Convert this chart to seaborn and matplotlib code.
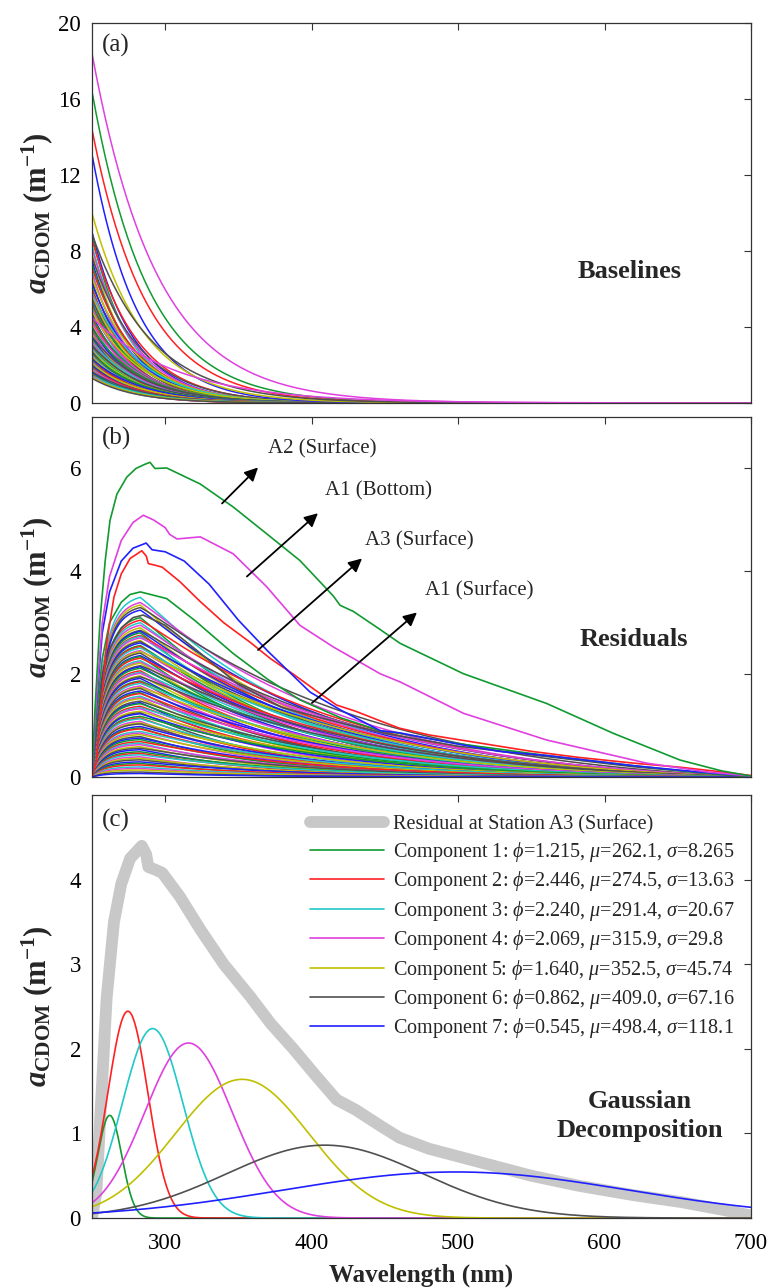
import numpy as np
import pandas as pd
import matplotlib
matplotlib.use("Agg")
import matplotlib.pyplot as plt
import seaborn as sns

sns.set_theme(style="white")
plt.rcParams["font.family"] = ["Liberation Serif", "DejaVu Serif"]
plt.rcParams["mathtext.fontset"] = "custom"
plt.rcParams["mathtext.rm"] = "Liberation Serif"
plt.rcParams["mathtext.it"] = "Liberation Serif:italic"
plt.rcParams["mathtext.bf"] = "Liberation Serif:bold"
plt.rcParams["mathtext.bfit"] = "Liberation Serif:bold:italic"

# ---------------- data ----------------
MATLAB = ["#2020FF", "#109A30", "#FF2020", "#20C8C8", "#E040E0", "#C0C000", "#505050"]

# (a) baselines: value at 250 nm and spectral slope of each exponential baseline
base_top_a250 = [18.4, 16.4, 14.4, 13.1, 10.0, 8.9, 4.5]
base_top_slope = [0.0225, 0.026, 0.027, 0.032, 0.028, 0.0245, 0.017]
base_top_color = ["#E040E0", "#109A30", "#FF2020", "#2020FF", "#C0C000", "#505050", "#E040E0"]

bundle_a_amp = [9.0, 8.8, 8.6, 8.3, 8.1, 7.9, 7.7, 7.5, 7.3, 7.1,
                6.9, 6.8, 6.6, 6.4, 6.3, 6.1, 6.0, 5.8, 5.7, 5.6,
                5.5, 5.3, 5.2, 5.1, 5.0, 4.9, 4.8, 4.7, 4.6, 4.5,
                4.4, 4.3, 4.2, 4.1, 4.0, 3.95, 3.9, 3.8, 3.7, 3.65,
                3.6, 3.5, 3.45, 3.4, 3.3, 3.25, 3.2, 3.1, 3.05, 3.0,
                2.95, 2.9, 2.85, 2.8, 2.75, 2.7, 2.65, 2.6, 2.55, 2.5,
                2.45, 2.4, 2.35, 2.3, 2.25, 2.2, 2.15, 2.1, 2.05, 2.0,
                1.95, 1.9, 1.85, 1.8, 1.75, 1.7, 1.65, 1.6, 1.55, 1.5,
                1.45, 1.4, 1.35, 1.3]
bundle_a_slope = [0.034, 0.037, 0.031, 0.035, 0.033, 0.038, 0.030, 0.036, 0.034, 0.032,
                  0.037, 0.035, 0.031, 0.036, 0.033, 0.039, 0.034, 0.030, 0.036, 0.032,
                  0.035, 0.038, 0.031, 0.034, 0.036, 0.033, 0.029, 0.037, 0.035, 0.032,
                  0.034, 0.038, 0.031, 0.036, 0.033, 0.035, 0.030, 0.037, 0.034, 0.032,
                  0.036, 0.029, 0.035, 0.038, 0.033, 0.031, 0.036, 0.034, 0.030, 0.037,
                  0.033, 0.035, 0.032, 0.038, 0.031, 0.034, 0.036, 0.030, 0.035, 0.033,
                  0.037, 0.031, 0.034, 0.029, 0.036, 0.032, 0.035, 0.038, 0.030, 0.034,
                  0.033, 0.036, 0.031, 0.035, 0.032, 0.037, 0.030, 0.034, 0.033, 0.036,
                  0.031, 0.035, 0.032, 0.034]

# (b) residuals: highlighted stations
a2_surf_wl = [250, 252, 255.5, 259, 262.3, 267, 273.7, 280, 286, 289.6, 293, 301, 323.8, 346.5,
              369.3, 392, 414.8, 419.4, 428.5, 446.7, 460.4, 503.6, 560.5, 606, 651.6, 680, 700]
a2_surf_val = [0, 1.3, 3.05, 4.2, 4.99, 5.5, 5.83, 6.0, 6.08, 6.12, 6.0, 6.01, 5.70, 5.25,
               4.73, 4.21, 3.52, 3.34, 3.22, 2.87, 2.60, 2.01, 1.43, 0.85, 0.33, 0.12, 0.02]
a1_bot_wl = [250, 253, 257, 262, 270, 278, 285, 292, 300, 303, 308, 324, 346.5, 369.3, 392,
             414.8, 446.7, 460.4, 503.6, 560.5, 628.8, 670, 700]
a1_bot_val = [0, 1.5, 3.0, 3.9, 4.6, 4.95, 5.09, 5.0, 4.85, 4.72, 4.63, 4.67, 4.34, 3.70, 2.95,
              2.53, 2.01, 1.85, 1.24, 0.72, 0.27, 0.10, 0.02]
blue_wl = [250, 253, 257, 262, 270, 278, 287, 291, 300, 313, 330, 350, 370, 399, 420, 447, 460,
           500, 528, 560, 620, 660, 700]
blue_val = [0, 1.4, 2.8, 3.6, 4.2, 4.45, 4.55, 4.42, 4.38, 4.2, 3.75, 3.05, 2.45, 1.65, 1.3,
            0.9, 0.86, 0.64, 0.5, 0.42, 0.22, 0.11, 0.02]
a1_surf_wl = [250, 253, 257, 262, 270, 276, 283, 290, 301, 320, 346.5, 370, 392, 420, 447, 460,
              500, 560, 620, 660, 700]
a1_surf_val = [0, 1.2, 2.3, 3.0, 3.4, 3.55, 3.6, 3.55, 3.47, 3.05, 2.40, 1.9, 1.5, 1.15, 0.90,
               0.85, 0.65, 0.42, 0.22, 0.10, 0.01]
gray_wl = [250, 253, 257, 262, 270, 278, 285, 300, 320, 350, 380, 420, 450, 500, 560, 620, 700]
gray_val = [0, 0.9, 1.9, 2.5, 2.9, 3.1, 3.15, 2.95, 2.5, 1.8, 1.35, 1.05, 0.85, 0.6, 0.4, 0.2, 0.0]
# A3 (surface) residual, also used in panel (c)
a3_surf_wl = [250, 253, 256, 260, 265, 270, 276, 284, 287, 288.5, 293, 298, 310, 324, 340, 358,
              372, 387.5, 402, 417, 430, 447, 460, 480, 515, 550, 583, 620, 652, 680, 700]
a3_surf_val = [0, 0.3, 1.3, 2.6, 3.5, 3.95, 4.25, 4.40, 4.3, 4.15, 4.12, 4.08, 3.8, 3.41, 3.0,
               2.62, 2.3, 2.0, 1.7, 1.40, 1.28, 1.09, 0.95, 0.82, 0.66, 0.5, 0.38, 0.27, 0.19,
               0.10, 0.03]

# (b) remaining residuals: peak value and decay rate of each
bundle_b_peak = [3.55, 3.45, 3.4, 3.35, 3.3, 3.15, 3.1, 3.05, 3.0, 2.95,
                 2.9, 2.88, 2.85, 2.8, 2.78, 2.75, 2.7, 2.68, 2.65, 2.6,
                 2.58, 2.55, 2.5, 2.48, 2.45, 2.4, 2.38, 2.35, 2.3, 2.27,
                 2.25, 2.2, 2.18, 2.15, 2.1, 2.07, 2.05, 2.0, 1.98, 1.95,
                 1.9, 1.88, 1.85, 1.8, 1.77, 1.75, 1.7, 1.67, 1.65, 1.6,
                 1.57, 1.55, 1.5, 1.47, 1.45, 1.4, 1.37, 1.35, 1.3, 1.27,
                 1.25, 1.2, 1.17, 1.15, 1.1, 1.07, 1.05, 1.0, 0.97, 0.95,
                 0.9, 0.87, 0.84, 0.8, 0.77, 0.74, 0.7, 0.67, 0.64, 0.6,
                 0.57, 0.54, 0.5, 0.47, 0.44, 0.4, 0.37, 0.34, 0.3, 0.27,
                 0.24, 0.2, 0.17, 0.14, 0.1, 0.07]
bundle_b_decay = [0.0060, 0.0048, 0.0064, 0.0041, 0.0053, 0.0066, 0.0045, 0.0057, 0.0050, 0.0062,
                  0.0043, 0.0055, 0.0069, 0.0047, 0.0059, 0.0040, 0.0064, 0.0052, 0.0046, 0.0061,
                  0.0067, 0.0049, 0.0056, 0.0042, 0.0063, 0.0054, 0.0071, 0.0047, 0.0058, 0.0051,
                  0.0065, 0.0044, 0.0060, 0.0053, 0.0068, 0.0049, 0.0056, 0.0062, 0.0043, 0.0066,
                  0.0054, 0.0072, 0.0050, 0.0059, 0.0046, 0.0067, 0.0052, 0.0075, 0.0057, 0.0063,
                  0.0049, 0.0070, 0.0055, 0.0080, 0.0060, 0.0066, 0.0051, 0.0074, 0.0058, 0.0085,
                  0.0062, 0.0053, 0.0078, 0.0068, 0.0090, 0.0059, 0.0073, 0.0065, 0.0082, 0.0070,
                  0.0060, 0.0077, 0.0066, 0.0088, 0.0071, 0.0080, 0.0064, 0.0092, 0.0075, 0.0085,
                  0.0069, 0.0095, 0.0078, 0.0088, 0.0072, 0.0100, 0.0083, 0.0093, 0.0079, 0.0105,
                  0.0087, 0.0098, 0.0110, 0.0092, 0.0115, 0.0100]

# (c) Gaussian components
comp_phi = [1.215, 2.446, 2.240, 2.069, 1.640, 0.862, 0.545]
comp_mu = [262.1, 274.5, 291.4, 315.9, 352.5, 409.0, 498.4]
comp_sigma = [8.265, 13.63, 20.67, 29.8, 45.74, 67.16, 118.1]
comp_sigma_txt = ["8.265", "13.63", "20.67", "29.8", "45.74", "67.16", "118.1"]
comp_color = ["#109A30", "#FF2020", "#20C8C8", "#E040E0", "#C0C000", "#505050", "#2020FF"]

xticks = [300, 400, 500, 600, 700]

# ---------------- figure ----------------
fig = plt.figure(figsize=(7.73, 12.88), dpi=100)
axA = fig.add_axes([0.119, 0.6871, 0.8525, 0.2950])
axB = fig.add_axes([0.119, 0.3967, 0.8525, 0.2795])
axC = fig.add_axes([0.119, 0.0543, 0.8525, 0.3284])

grid = np.arange(250, 700.5, 1.0)

# panel (a)
frames, pal = [], {}
for i, (A, S) in enumerate(zip(bundle_a_amp, bundle_a_slope)):
    key = f"a{i:03d}"
    frames.append(pd.DataFrame({"wl": grid, "val": A * np.exp(-S * (grid - 250)), "curve": key}))
    pal[key] = MATLAB[i % 7]
dfa = pd.concat(frames)
sns.lineplot(data=dfa, x="wl", y="val", hue="curve", palette=pal, estimator=None,
             legend=False, lw=1.1, ax=axA, sort=False)
for A, S, c in zip(base_top_a250, base_top_slope, base_top_color):
    sns.lineplot(x=grid, y=A * np.exp(-S * (grid - 250)), color=c, lw=1.1, ax=axA)

# panel (b)
frames, pal = [], {}
lam_p = 283.0
rise = 1 - np.exp(-(grid - 250) / 8.0)
for i, (P, S) in enumerate(zip(bundle_b_peak, bundle_b_decay)):
    key = f"b{i:03d}"
    dec = np.where(grid <= lam_p, 1.0, np.exp(-S * (grid - lam_p)) * (700 - grid) / (700 - lam_p))
    frames.append(pd.DataFrame({"wl": grid, "val": P * rise * dec, "curve": key}))
    pal[key] = MATLAB[(i + 3) % 7]
dfb = pd.concat(frames)
sns.lineplot(data=dfb, x="wl", y="val", hue="curve", palette=pal, estimator=None,
             legend=False, lw=1.1, ax=axB, sort=False)
for wl, val, c in [(gray_wl, gray_val, "#505050"), (a1_surf_wl, a1_surf_val, "#109A30"),
                   (a3_surf_wl, a3_surf_val, "#FF2020"), (blue_wl, blue_val, "#2020FF"),
                   (a1_bot_wl, a1_bot_val, "#E040E0"), (a2_surf_wl, a2_surf_val, "#109A30")]:
    sns.lineplot(x=wl, y=val, color=c, lw=1.2, ax=axB, sort=False)

arrows = [((338.8, 5.32), (363.4, 6.02), (370.2, 6.39), "A2 (Surface)"),
          ((355.8, 3.90), (404.3, 5.13), (409.0, 5.57), "A1 (Bottom)"),
          ((363.4, 2.47), (434.4, 4.25), (436.4, 4.60), "A3 (Surface)"),
          ((400.2, 1.44), (471.9, 3.20), (477.4, 3.63), "A1 (Surface)")]
for tail, head, tpos, txt in arrows:
    axB.annotate("", xy=head, xytext=tail,
                 arrowprops=dict(arrowstyle="-|>", color="black", lw=1.3, mutation_scale=20,
                                 shrinkA=0, shrinkB=0))
    axB.text(tpos[0], tpos[1], txt, fontsize=15, ha="left", va="center")

# panel (c)
sns.lineplot(x=a3_surf_wl, y=a3_surf_val, color="#C8C8C8", lw=8.5, ax=axC, sort=False,
             label="Residual at Station A3 (Surface)")
for k in range(7):
    y = comp_phi[k] * np.exp(-(grid - comp_mu[k]) ** 2 / (2 * comp_sigma[k] ** 2))
    lab = (f"Component {k+1}: $\\phi$={comp_phi[k]:.3f}, $\\mu$={comp_mu[k]:.1f}, "
           f"$\\sigma$={comp_sigma_txt[k]}")
    sns.lineplot(x=grid, y=y, color=comp_color[k], lw=1.2, ax=axC, label=lab)
axC.legend(loc="upper left", bbox_to_anchor=(0.318, 0.972), frameon=False, fontsize=14.5,
           handlelength=3.7, handletextpad=0.45, labelspacing=0.27, borderaxespad=0)

# ---------------- styling ----------------
ylab = r"$\mathbfit{a}_{\mathbf{CDOM}}\ \mathbf{(m}^{\mathbf{-1}}\mathbf{)}$"
for ax, ylim, yt, letter in [(axA, (0, 20), [0, 4, 8, 12, 16, 20], "(a)"),
                             (axB, (0, 7), [0, 2, 4, 6], "(b)"),
                             (axC, (0, 5), [0, 1, 2, 3, 4], "(c)")]:
    ax.set_xlim(250, 700)
    ax.set_ylim(*ylim)
    ax.set_yticks(yt)
    ax.set_xticks(xticks)
    ax.tick_params(direction="in", length=5, width=0.8, top=True, right=True,
                   labelsize=16.5, colors="#333333", labelcolor="black", pad=8)
    ax.tick_params(axis="x", pad=11)
    for s in ax.spines.values():
        s.set_color("#333333")
        s.set_linewidth(0.9)
    ax.set_ylabel(ylab, fontsize=22)
    ax.yaxis.set_label_coords(-0.056, 0.5)
    ax.set_xlabel("")
    ax.text(0.015, 0.94, letter, transform=ax.transAxes, fontsize=18, ha="left", va="center")
    ax.grid(False)

axA.set_xticklabels([])
axB.set_xticklabels([])
axC.set_xlabel("Wavelength (nm)", fontsize=18, fontweight="bold", labelpad=7)

axA.text(0.816, 0.345, "Baselines", transform=axA.transAxes, fontsize=19,
         fontweight="bold", ha="center", va="center")
axB.text(0.822, 0.381, "Residuals", transform=axB.transAxes, fontsize=19,
         fontweight="bold", ha="center", va="center")
axC.text(0.832, 0.241, "Gaussian\nDecomposition", transform=axC.transAxes, fontsize=19,
         fontweight="bold", ha="center", va="center", linespacing=1.3)

fig.savefig("out.png", dpi=100)
